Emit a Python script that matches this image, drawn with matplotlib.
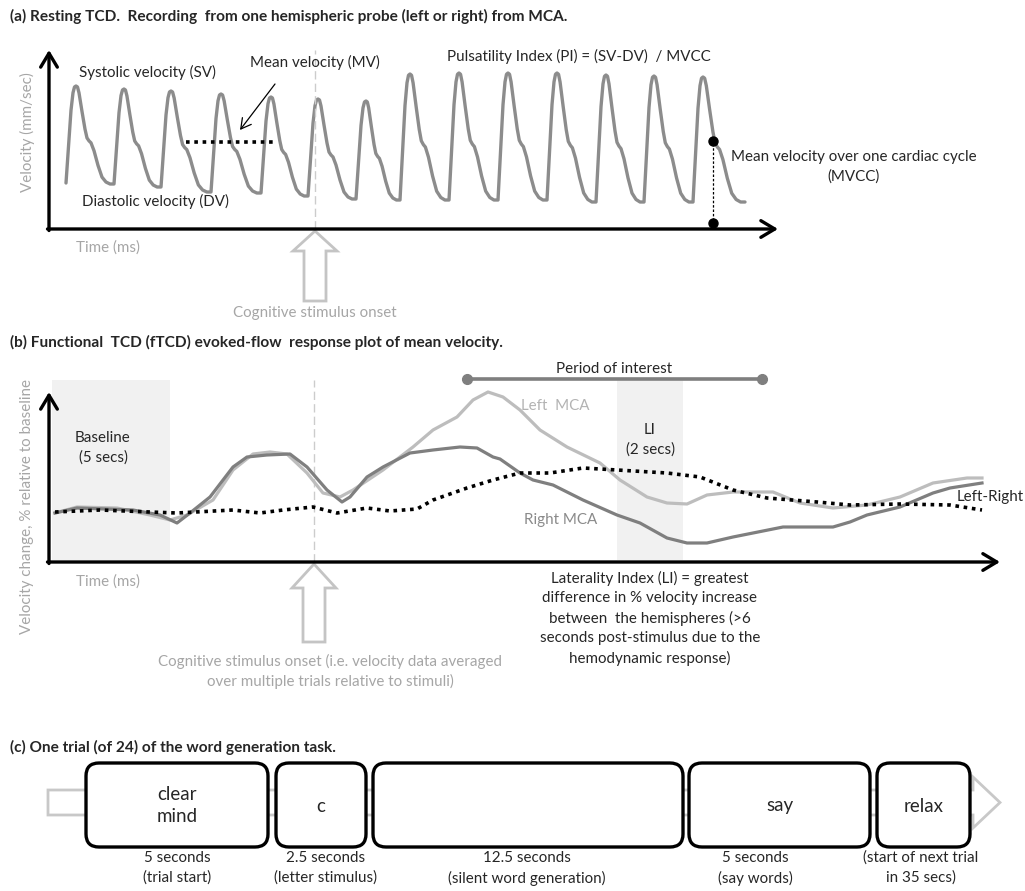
import numpy as np
import matplotlib
matplotlib.use("Agg")
import matplotlib.pyplot as plt
from matplotlib import patches

W, H = 1025, 891
plt.rcParams['font.family'] = ["Lato", "DejaVu Sans"]

# ---------------- Panel (a): resting TCD waveform ----------------
a_peak_time = [76, 124, 171, 221, 271, 318, 366, 410, 459, 508, 557, 606, 654, 703]
a_sv = [143, 140, 138, 135, 132, 130, 128, 155, 156, 156, 156, 154, 153, 152]
a_dv = [45, 42, 37, 36, 33, 30, 29, 29, 29, 29, 27, 27, 27, 27]
a_dv_start = 46
# schematic shape of one cardiac cycle (offset from systolic peak, fraction DV->SV)
pulse_rise_dt = [-10, -8, -5, -3, -1.5, 0]
pulse_rise_f = [0, 0.3, 0.75, 0.93, 0.99, 1]
pulse_fall_dt = [1.5, 3, 6, 9, 11, 13, 15, 18, 22, 26, 30, 34, 38]
pulse_fall_f = [0.99, 0.93, 0.74, 0.56, 0.47, 0.44, 0.42, 0.34, 0.19, 0.07, 0.02, 0, 0]
a_mv_time = [186, 273]
a_mv = 87
a_mvcc_time = 713
a_mvcc = 88
a_stim_time = 315

# ---------------- Panel (b): evoked-flow response ----------------
b_right_t = [55, 77, 133, 160, 177, 190, 210, 233, 247, 267, 290, 307, 327, 342, 350, 367, 383,
             410, 433, 460, 477, 493, 500, 520, 533, 553, 583, 617, 640, 667, 687, 707, 733, 783,
             817, 833, 850, 867, 900, 933, 950, 982]
b_right_v = [49, 54, 52, 47, 39, 49, 65, 95, 105, 107, 108, 95, 72, 60, 65, 85, 95,
             109, 112, 115, 114, 105, 103, 89, 82, 77, 62, 47, 39, 24, 19, 19, 25, 35,
             35, 35, 40, 47, 55, 69, 74, 79]
b_left_t = [55, 77, 117, 150, 170, 187, 213, 233, 253, 270, 287, 307, 323, 340, 353, 383, 413,
            433, 457, 473, 488, 503, 520, 540, 567, 600, 620, 647, 667, 687, 707, 733, 773, 800,
            833, 867, 900, 933, 967, 982]
b_left_v = [49, 55, 54, 47, 42, 47, 62, 92, 108, 110, 108, 89, 69, 65, 72, 92, 115,
            132, 145, 162, 170, 165, 152, 132, 115, 99, 82, 65, 59, 58, 67, 70, 70, 59,
            54, 57, 65, 79, 84, 84]
b_diff_t = [55, 100, 150, 177, 233, 260, 283, 313, 337, 367, 390, 417, 433, 467, 493, 520, 550,
            583, 617, 667, 700, 733, 767, 817, 850, 900, 950, 982]
b_diff_v = [50, 52, 50, 49, 52, 49, 52, 55, 49, 54, 51, 53, 62, 74, 82, 89, 89,
            94, 92, 89, 85, 72, 64, 60, 57, 58, 57, 52]
b_baseline = [52, 170]
b_li_window = [617, 683]
b_period = [467, 762]
b_period_v = 183
b_stim_time = 314

# ---------------- Panel (c): trial timeline ----------------
c_labels = ["clear\nmind", "c", "", "say", "relax"]
c_box_x = [86, 276, 373, 689, 877]
c_box_w = [182, 90, 310, 181, 93]
c_durations = ["5 seconds\n(trial start)", "2.5 seconds\n(letter stimulus)",
               "12.5 seconds\n(silent word generation)", "5 seconds\n(say words)",
               "(start of next trial\nin 35 secs)"]
c_dur_x = [177, 326, 527, 755, 921]

DARK = "#262626"
GRAY = "#a6a6a6"
FS = 10.9

fig = plt.figure(figsize=(W / 100, H / 100), dpi=100)


def px_axes(x0, x1, ytop, ybot):
    ax = fig.add_axes([x0 / W, 1 - ybot / H, (x1 - x0) / W, (ybot - ytop) / H])
    ax.set_axis_off()
    ax.patch.set_alpha(0)
    return ax


# ---- panel a waveform axes
axa = px_axes(49, 778, 50, 229)
axa.set_xlim(49, 778)
axa.set_ylim(0, 179)
tt, vv = [], []
for i, pk in enumerate(a_peak_time):
    prev = a_dv_start if i == 0 else a_dv[i - 1]
    sv, dv = a_sv[i], a_dv[i]
    nxt = a_peak_time[i + 1] if i + 1 < len(a_peak_time) else pk + 52
    s = (nxt - 10 - pk) / pulse_fall_dt[-1]
    for dt, f in zip(pulse_rise_dt, pulse_rise_f):
        tt.append(pk + dt)
        vv.append(prev + f * (sv - prev))
    for dt, f in zip(pulse_fall_dt, pulse_fall_f):
        tt.append(pk + dt * s)
        vv.append(dv + f * (sv - dv))
axa.plot(tt, vv, color="#8c8c8c", lw=2.4, solid_joinstyle="round", solid_capstyle="round")
axa.plot(a_mv_time, [a_mv, a_mv], color="black", lw=2.6, linestyle=(0, (1, 1.3)))
axa.plot([a_mvcc_time, a_mvcc_time], [0, a_mvcc], color="black", lw=0.9, linestyle=(0, (2, 1.5)))
axa.plot([a_mvcc_time, a_mvcc_time], [6, a_mvcc], "o", color="black", ms=6.5)
axa.axvline(a_stim_time, color="#cccccc", lw=1, linestyle=(0, (6, 3)))

# ---- panel b axes
axb = px_axes(49, 1000, 370, 562)
axb.set_xlim(49, 1000)
axb.set_ylim(0, 192)
for span in (b_baseline, b_li_window):
    axb.axvspan(span[0], span[1], ymin=2 / 192, ymax=182 / 192, color="#f1f1f1", lw=0, zorder=0)
axb.axvline(b_stim_time, ymax=182 / 192, color="#cccccc", lw=1, linestyle=(0, (6, 3)), zorder=1)
axb.plot(b_left_t, b_left_v, color="#bdbdbd", lw=2.3, solid_joinstyle="round", zorder=2)
axb.plot(b_right_t, b_right_v, color="#7f7f7f", lw=2.3, solid_joinstyle="round", zorder=3)
axb.plot(b_diff_t, b_diff_v, color="black", lw=2.6, linestyle=(0, (1, 1.3)), zorder=4)
axb.plot(b_period, [b_period_v, b_period_v], color="#7f7f7f", lw=2.6, marker="o", ms=7, zorder=4)

# ---- overlay (pixel coordinates) for axes arrows, text and diagram
ov = fig.add_axes([0, 0, 1, 1])
ov.set_xlim(0, W)
ov.set_ylim(H, 0)
ov.set_axis_off()
ov.patch.set_alpha(0)


def arrow(x0, y0, x1, y1, lw=2.4, style="->,head_length=0.5,head_width=0.3", ms=20):
    ov.annotate("", xy=(x1, y1), xytext=(x0, y0),
                arrowprops=dict(arrowstyle=style, lw=lw, color="black",
                                shrinkA=0, shrinkB=0, mutation_scale=ms))


def txt(s, x, y, ha="center", color=DARK, size=FS, step=20, **kw):
    lines = s.split("\n")
    for k, line in enumerate(lines):
        ov.text(x, y + step * k, line, ha=ha, va="center", color=color, fontsize=size, **kw)


def hollow_up(x, ytip, ybot, head_base):
    ar = patches.FancyArrow(x, ybot, 0, ytip - ybot, width=22, head_width=44,
                            head_length=head_base - ytip, length_includes_head=True,
                            fc="white", ec="#c4c4c4", lw=2)
    ov.add_patch(ar)


# titles
TFS = 11.1
ov.text(10, 16, "(a) Resting TCD.  Recording  from one hemispheric probe (left or right) from MCA.",
        fontsize=TFS, fontweight="bold", va="center", color=DARK)
ov.text(10, 342, "(b) Functional  TCD (fTCD) evoked-flow  response plot of mean velocity.",
        fontsize=TFS, fontweight="bold", va="center", color=DARK)
ov.text(10, 747, "(c) One trial (of 24) of the word generation task.",
        fontsize=TFS, fontweight="bold", va="center", color=DARK)

# panel a axes arrows
arrow(49, 230.5, 49, 50)
arrow(47.5, 229, 778, 229)
hollow_up(315, 231, 301, 251)
txt("Systolic velocity (SV)", 147, 72)
txt("Diastolic velocity (DV)", 155, 201)
txt("Mean velocity (MV)", 315, 62)
txt("Pulsatility Index (PI) = (SV-DV)  / MVCC", 579, 56)
txt("Mean velocity over one cardiac cycle\n(MVCC)", 854, 157)
txt("Time (ms)", 76, 248, ha="left", color=GRAY)
txt("Cognitive stimulus onset", 315, 313, color=GRAY)
ov.text(27, 132, "Velocity (mm/sec)", rotation=90, ha="center", va="center", color=GRAY, fontsize=FS)
arrow(275, 84, 240, 130, lw=0.9, style="->,head_length=0.45,head_width=0.25", ms=16)

# panel b
arrow(49, 563.5, 49, 392)
arrow(47.5, 562, 1000, 562)
hollow_up(314, 564, 642, 588)
txt("Baseline\n(5 secs)", 103, 438)
txt("LI\n(2 secs)", 650, 430)
txt("Period of interest", 614, 369)
txt("Left  MCA", 521, 406, ha="left", color="#b3b3b3")
txt("Right MCA", 524, 520, ha="left", color="#8a8a8a")
txt("Left-Right", 957, 497, ha="left")
txt("Time (ms)", 76, 582, ha="left", color=GRAY)
txt("Cognitive stimulus onset (i.e. velocity data averaged\nover multiple trials relative to stimuli)",
    330, 661, color=GRAY)
ov.text(27, 507, "Velocity change, % relative to baseline", rotation=90, ha="center",
        va="center", color=GRAY, fontsize=FS)
txt("Laterality Index (LI) = greatest\ndifference in % velocity increase\n"
    "between  the hemispheres (>6\nseconds post-stimulus due to the\nhemodynamic response)", 650, 578)

# panel c
big = patches.FancyArrow(48, 802.5, 952, 0, width=25, head_width=51, head_length=27,
                         length_includes_head=True, fc="white", ec="#c8c8c8", lw=2)
ov.add_patch(big)
for lab, x, w in zip(c_labels, c_box_x, c_box_w):
    box = patches.FancyBboxPatch((x, 763), w, 84, boxstyle="round,pad=0,rounding_size=13",
                                 fc="white", ec="black", lw=2.4, zorder=3)
    ov.add_patch(box)
    if lab:
        n = lab.count("\n")
        txt(lab, x + w / 2, 806 - 11 * n, size=13.5, step=22, zorder=4)
for lab, x in zip(c_durations, c_dur_x):
    txt(lab, x, 858)

fig.savefig("out.png", dpi=100)
